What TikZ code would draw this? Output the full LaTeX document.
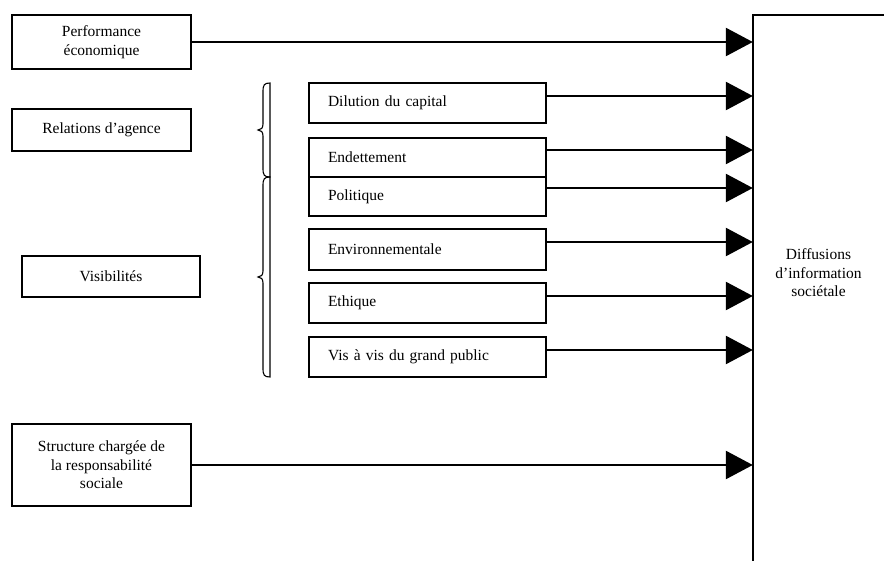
\documentclass[tikz,border=0pt]{standalone}
\usepackage{fontspec}
\setmainfont{Liberation Serif}
\usetikzlibrary{arrows.meta,calc}
\begin{document}
\begin{tikzpicture}[x=1pt,y=-1pt,
  box/.style={draw,line width=1.8pt,inner sep=0pt,font=\fontsize{15.5}{18.5}\selectfont},
  leftbox/.style={box,align=center,minimum width=179pt},
  midbox/.style={box,inner xsep=19pt,text width=199pt,align=left,minimum width=237pt,minimum height=40pt},
  arr/.style={line width=2.6pt,-{Triangle[length=27pt,width=28pt]}},
  bracestyle/.style={line width=1.1pt}]
\useasboundingbox (0,0) rectangle (884,561);

\node[leftbox,minimum height=54pt] (perf) at (101.5,42) {Performance\\économique};
\node[leftbox,minimum height=42pt] (rel) at (101.5,130) {Relations d’agence};
\node[leftbox,minimum width=178pt,minimum height=41pt] (vis) at (111,276.5) {Visibilités};
\node[leftbox,minimum height=82pt] (struct) at (101.5,465) {Structure chargée de\\la responsabilité\\sociale};

\node[midbox] (dil) at (427.5,103) {Dilution du capital};
\node[midbox,minimum height=39pt] (end) at (427.5,157.5) {Endettement};
\node[midbox,minimum height=39pt] (pol) at (427.5,196.5) {Politique};
\node[midbox,minimum height=41pt] (env) at (427.5,249.5) {Environnementale};
\node[midbox] (eth) at (427.5,303) {Ethique};
\node[midbox] (pub) at (427.5,357) {Vis à vis du grand public};

\node[inner sep=0pt,minimum width=131pt,minimum height=516pt,align=center,
      font=\fontsize{15.5}{18.5}\selectfont] (diff) at (818.5,273)
      {Diffusions\\d’information\\sociétale};
\draw[line width=1.8pt] ([yshift=-30pt]diff.south west) -- (diff.north west) -- (diff.north east);

% braces
\draw[bracestyle] (270,83) .. controls (264,83) and (263,85) .. (263,92) -- (263,124)
  .. controls (263,128) and (261,130) .. (258,130) .. controls (261,130) and (263,132) .. (263,136)
  -- (263,168) .. controls (263,175) and (264,177) .. (270,177) -- cycle;
\draw[bracestyle] (270,177) .. controls (264,177) and (263,179) .. (263,186) -- (263,271)
  .. controls (263,275) and (261,277) .. (258,277) .. controls (261,277) and (263,279) .. (263,283)
  -- (263,368) .. controls (263,375) and (264,377) .. (270,377) -- cycle;

% arrows
\draw[arr] (perf.east) -- (perf.east -| diff.west);
\draw[arr] ([yshift=7pt]dil.east) -- ([yshift=7pt]dil.east -| diff.west);
\draw[arr] ([yshift=7.5pt]end.east) -- ([yshift=7.5pt]end.east -| diff.west);
\draw[arr] ([yshift=8.5pt]pol.east) -- ([yshift=8.5pt]pol.east -| diff.west);
\draw[arr] ([yshift=7.5pt]env.east) -- ([yshift=7.5pt]env.east -| diff.west);
\draw[arr] ([yshift=7pt]eth.east) -- ([yshift=7pt]eth.east -| diff.west);
\draw[arr] ([yshift=7pt]pub.east) -- ([yshift=7pt]pub.east -| diff.west);
\draw[arr] (struct.east) -- (struct.east -| diff.west);
\end{tikzpicture}
\end{document}
